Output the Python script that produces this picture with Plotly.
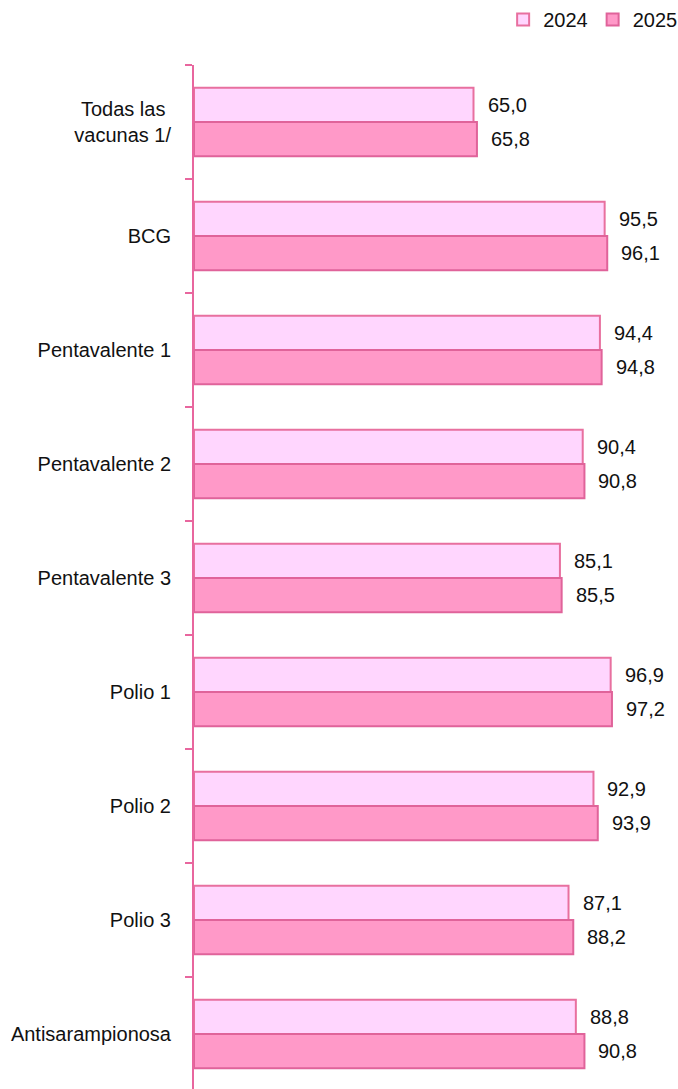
import plotly.graph_objects as go

categories = ["Todas las\u00a0<br>vacunas 1/", "BCG", "Pentavalente 1", "Pentavalente 2",
              "Pentavalente 3", "Polio 1", "Polio 2", "Polio 3", "Antisarampionosa"]
values_2024 = [65.0, 95.5, 94.4, 90.4, 85.1, 96.9, 92.9, 87.1, 88.8]
values_2025 = [65.8, 96.1, 94.8, 90.8, 85.5, 97.2, 93.9, 88.2, 90.8]
series_names = ["2024", "2025"]

FONT = "Liberation Sans, Arial, sans-serif"
FS = 20
LINE = "#E8669E"

def fmt(v):
    return f"{v:.1f}".replace(".", ",")

fig = go.Figure()
fig.add_trace(go.Bar(y=categories, x=values_2024, name=series_names[0], orientation="h",
                     marker=dict(color="#FFD6FE", line=dict(color="#E8709F", width=2))))
fig.add_trace(go.Bar(y=categories, x=values_2025, name=series_names[1], orientation="h",
                     marker=dict(color="#FF99C8", line=dict(color="#E0639A", width=2))))

for vals, shift in ((values_2024, 17), (values_2025, -17)):
    for c, v in zip(categories, vals):
        fig.add_annotation(x=v, y=c, text=fmt(v), showarrow=False, xanchor="left",
                           xshift=12, yshift=shift, font=dict(family=FONT, size=FS, color="#111"))

fig.update_layout(
    width=678, height=1089,
    margin=dict(l=194, r=11, t=65, b=0, autoexpand=False),
    paper_bgcolor="white", plot_bgcolor="white",
    barmode="group", bargap=0.40, bargroupgap=0,
    hovermode=False,
    font=dict(family=FONT, size=FS, color="#111"),
    showlegend=True,
    legend=dict(orientation="h", xref="paper", yref="container",
                x=1.032, xanchor="right", y=1.0, yanchor="top",
                font=dict(family=FONT, size=FS), itemwidth=30, tracegroupgap=0,
                bgcolor="rgba(0,0,0,0)"),
)
fig.update_xaxes(range=[0, 110], visible=False, showgrid=False, zeroline=False)
fig.update_yaxes(type="category", range=[8.482, -0.5], showline=True, linecolor=LINE, linewidth=2,
                 ticks="outside", tickson="boundaries", ticklen=7, tickcolor=LINE, tickwidth=2,
                 showgrid=False, automargin=False, ticklabelstandoff=17,
                 tickfont=dict(family=FONT, size=FS, color="#111"))

fig.write_html("out.html", config={"displayModeBar": False, "staticPlot": True},
               post_script="document.body.style.margin='0';document.body.style.overflow='hidden';")
